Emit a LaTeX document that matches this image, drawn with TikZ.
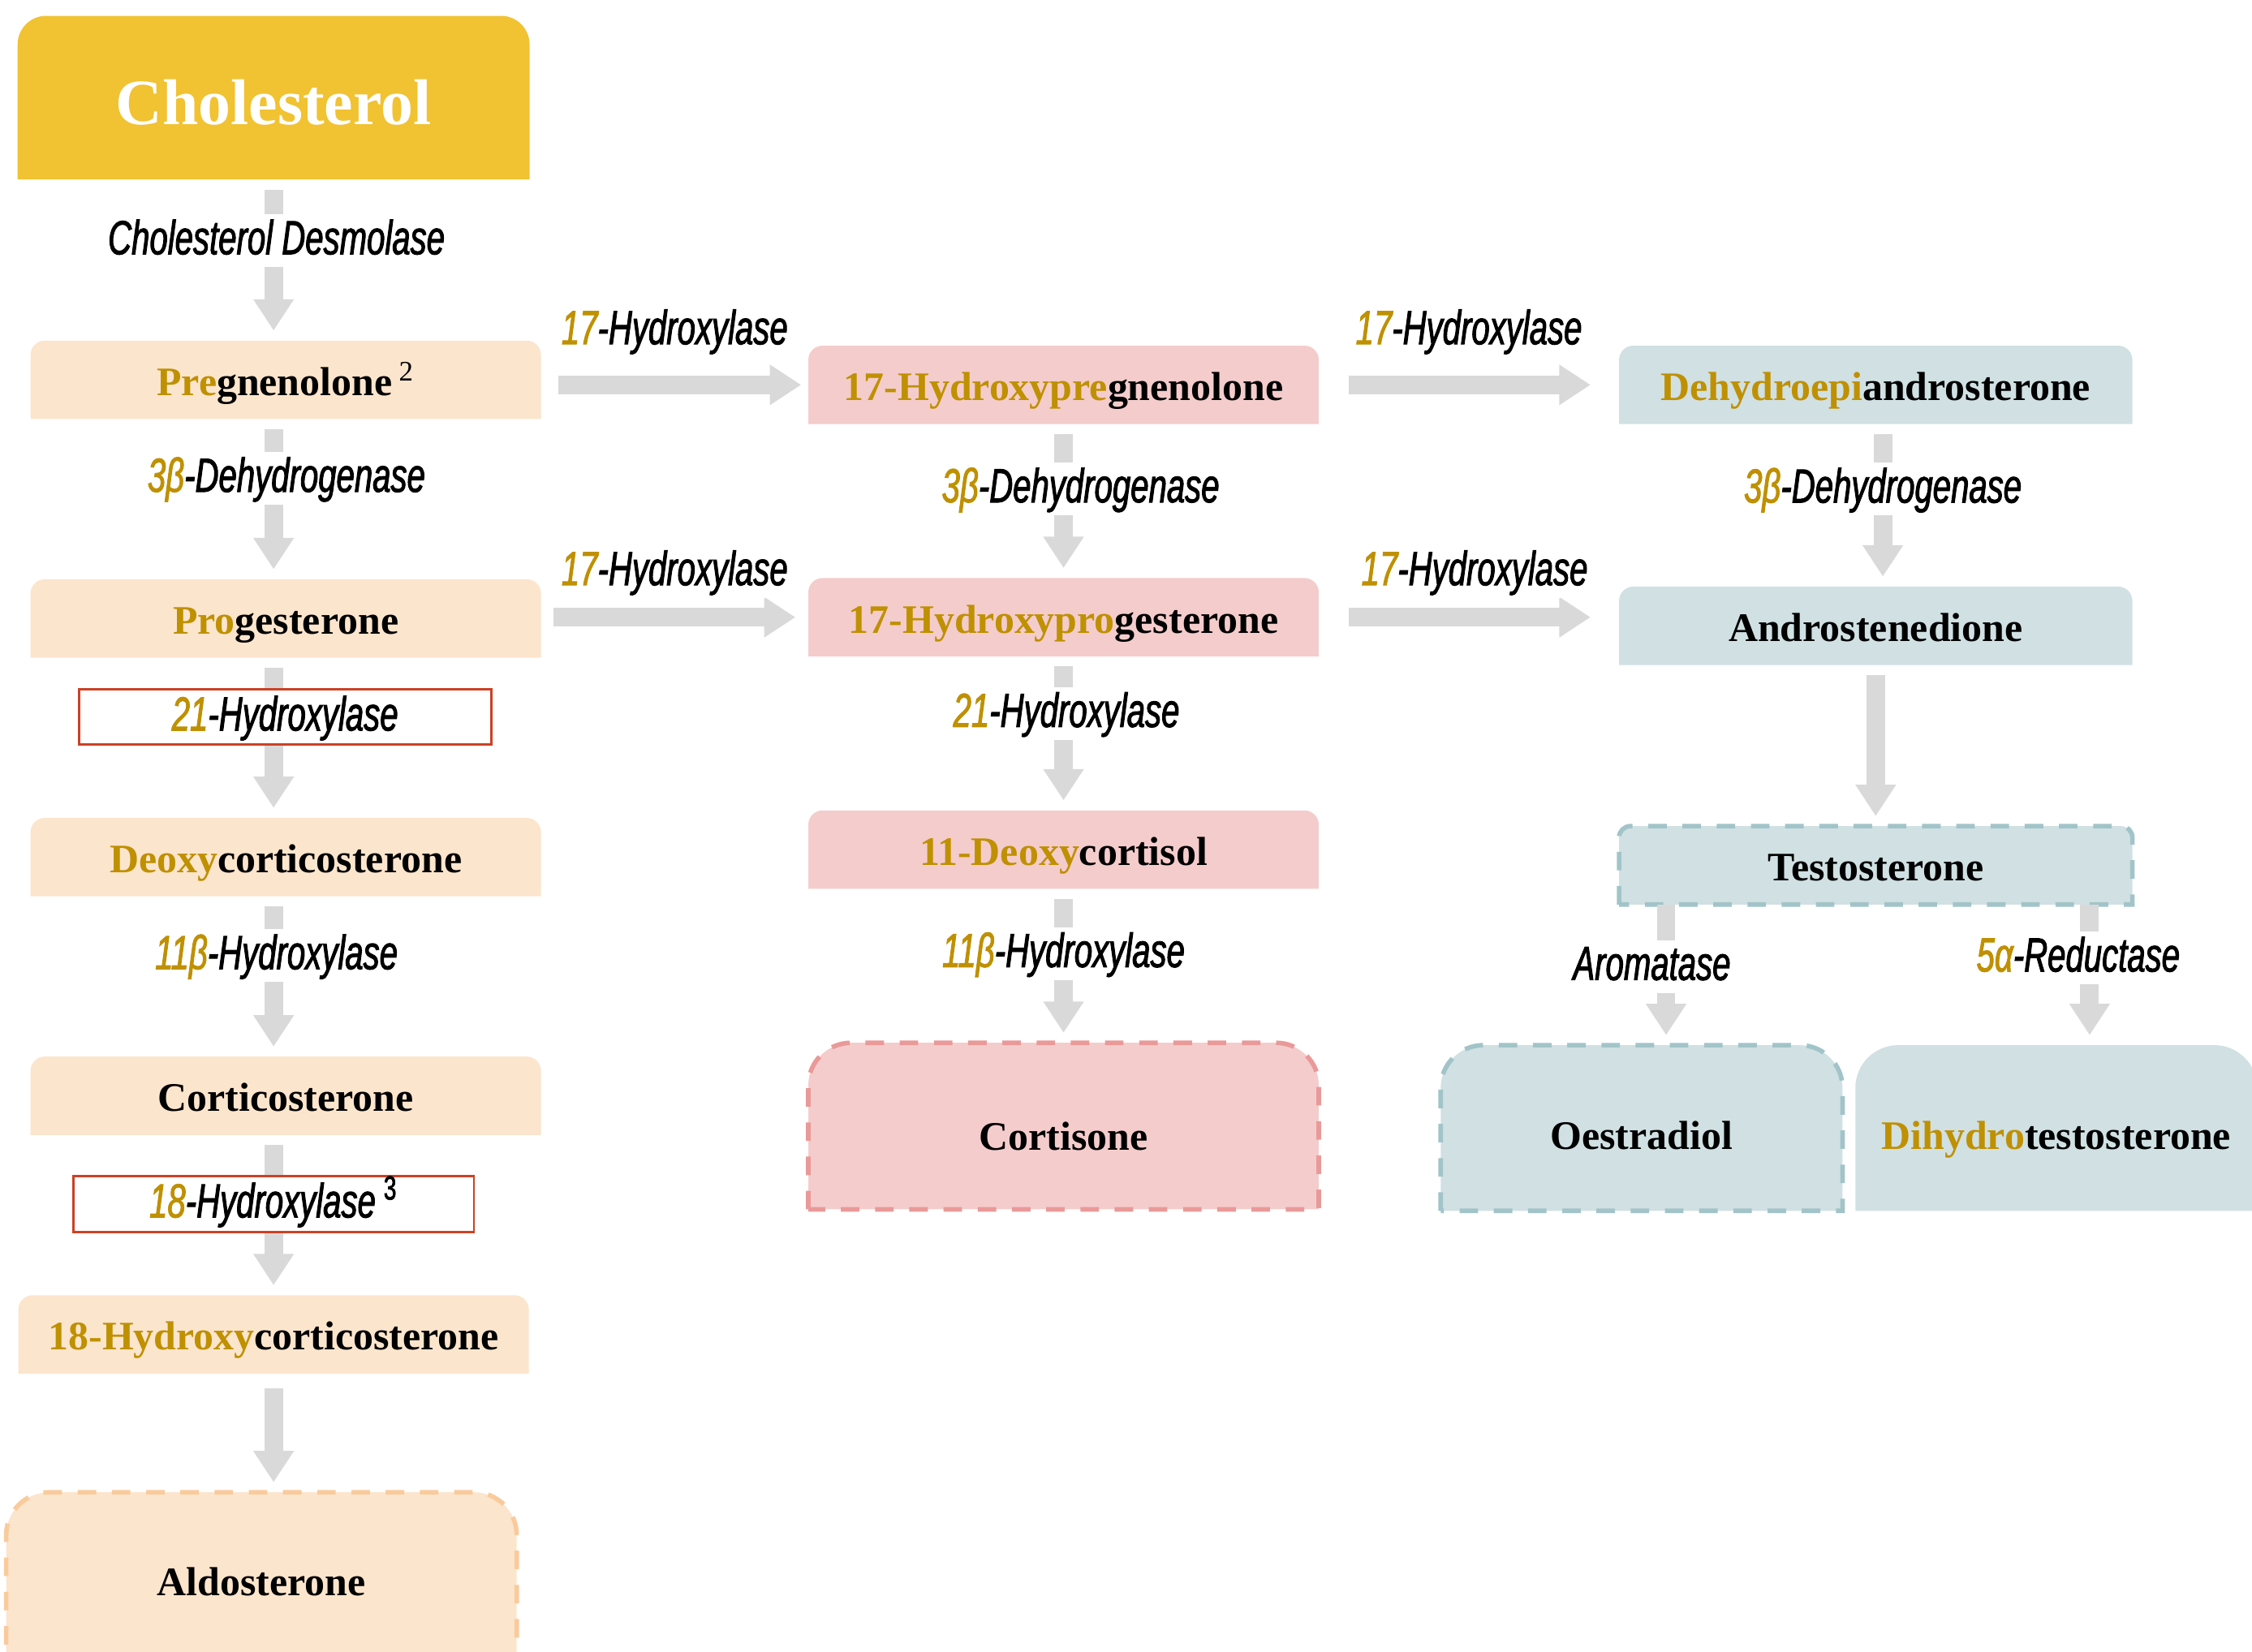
\documentclass[tikz,border=0pt]{standalone}
\usepackage{fontspec}
\setmainfont{Liberation Serif}
\newfontfamily\enzfont[FakeStretch=0.68, FakeBold=1.6]{Liberation Sans}
\usetikzlibrary{arrows.meta, positioning, backgrounds}

\definecolor{gold}{HTML}{BF9000}
\definecolor{cholfill}{HTML}{F1C232}
\definecolor{peach}{HTML}{FCE5CD}
\definecolor{peachline}{HTML}{F9CB9C}
\definecolor{rose}{HTML}{F4CCCC}
\definecolor{roseline}{HTML}{EA9999}
\definecolor{steel}{HTML}{D0E0E3}
\definecolor{steelline}{HTML}{A2C4C9}
\definecolor{flowgray}{HTML}{D9D9D9}
\definecolor{redline}{HTML}{CC4125}

% box with rounded top corners and square bottom corners
\newcommand{\topround}[3]{%
  \path[#3] (#1.south west) -- ([yshift=-#2]#1.north west)
    arc[start angle=180, end angle=90, radius=#2]
    -- ([xshift=-#2]#1.north east)
    arc[start angle=90, end angle=0, radius=#2]
    -- (#1.south east) -- cycle;}

\newcommand{\goldpart}[1]{\textcolor{gold}{#1}}

\begin{document}
\begin{tikzpicture}[
    x=0.017698cm, y=0.017698cm,
    node distance=56.2pt,
    >={Triangle[width=13.5pt, length=11pt]},
    steroid/.style={minimum width=178.6pt, minimum height=27.1pt, inner sep=0pt,
        text height=11pt, text depth=0pt,
        font=\fontsize{14.2}{17}\selectfont\bfseries},
    bigsteroid/.style={steroid, minimum height=58pt, text height=15pt},
    cholbox/.style={steroid, minimum width=179.1pt, minimum height=57pt,
        text height=19pt, text=white,
        font=\fontsize{22.7}{26}\selectfont\bfseries},
    enzyme/.style={fill=white, inner sep=1pt, text height=13pt, text depth=3.5pt,
        font=\enzfont\itshape\fontsize{16.8}{20}\selectfont},
    redbox/.style={enzyme, draw=redline, line width=0.8pt, inner sep=0pt},
    flow/.style={->, draw=flowgray, line width=6.5pt,
        shorten <=3.5pt, shorten >=3.5pt},
    dashline/.style={line width=1.6pt, dash pattern=on 6.5pt off 5.5pt}
]

\useasboundingbox (0,0) rectangle (1568,-1150);

% Nodes ------------------------------------------------------

\node[cholbox] (chol) at (190.5,-68) {Cholesterol};

\node[steroid, below=56.5pt of chol, xshift=4.26pt] (pregn)
    {\goldpart{Pre}gnenolone\,{\mdseries\textsuperscript{2}}};
\node[steroid, below=of pregn] (progest) {\goldpart{Pro}gesterone};
\node[steroid, below=of progest] (deoxy) {\goldpart{Deoxy}corticosterone};
\node[steroid, below=of deoxy] (cortico) {Corticosterone};
\node[steroid, below=of cortico, xshift=-4.26pt] (hcort)
    {\goldpart{18-Hydroxy}corticosterone};
\node[bigsteroid, minimum height=65pt, text height=7pt, below=41.6pt of hcort,
    xshift=-4.26pt] (aldo) {Aldosterone};

\node[steroid] (ohpreg) at (740.5,-268) {\goldpart{17-Hydroxypre}gnenolone};
\node[steroid, below=54pt of ohpreg] (ohprog) {\goldpart{17-Hydroxypro}gesterone};
\node[steroid, below=54pt of ohprog] (dcortisol) {\goldpart{11-Deoxy}cortisol};
\node[bigsteroid, text height=17pt, below=54pt of dcortisol] (cortisone) {Cortisone};

\node[steroid, minimum width=179.6pt] (dhea) at (1306,-268)
    {\goldpart{Dehydroepi}androsterone};
\node[steroid, minimum width=179.6pt, below=57pt of dhea] (andro) {Androstenedione};
\node[steroid, minimum width=179.6pt, below=56.5pt of andro] (testo) {Testosterone};
\node[bigsteroid, minimum width=140.5pt, minimum height=57.7pt] (oestr)
    at (1143,-785.5) {Oestradiol};
\node[bigsteroid, minimum width=140.5pt, minimum height=57.7pt, right=4.5pt of oestr]
    (dht) {\goldpart{Dihydro}testosterone};

% Boxes ------------------------------------------------------

\begin{scope}[on background layer]
  \topround{chol}{10pt}{fill=cholfill}
  \foreach \n in {pregn, progest, deoxy, cortico, hcort}
    {\topround{\n}{5pt}{fill=peach}}
  \topround{aldo}{15pt}{fill=peach, draw=peachline, dashline}
  \foreach \n in {ohpreg, ohprog, dcortisol}
    {\topround{\n}{5pt}{fill=rose}}
  \topround{cortisone}{15pt}{fill=rose, draw=roseline, dashline}
  \foreach \n in {dhea, andro}
    {\topround{\n}{5pt}{fill=steel}}
  \topround{testo}{4pt}{fill=steel, draw=steelline, dashline}
  \topround{oestr}{15pt}{fill=steel, draw=steelline, dashline}
  \topround{dht}{15pt}{fill=steel}
\end{scope}

% Arrows ---------------------------------------------------

\draw[flow] (chol.south) -- (chol.south |- pregn.north)
    node[enzyme, pos=0.38, xshift=1pt] (desmolase) {Cholesterol Desmolase};
\draw[flow] ([xshift=-4.26pt]pregn.south) -- ([xshift=-4.26pt]progest.north)
    node[enzyme, pos=0.37, xshift=4.5pt] (hsdA) {\goldpart{3β}-Dehydrogenase};
\draw[flow] ([xshift=-4.26pt]progest.south) -- ([xshift=-4.26pt]deoxy.north)
    node[redbox, minimum width=144.5pt, minimum height=19.3pt, pos=0.37, xshift=4pt]
    (hydA) {\goldpart{21}-Hydroxylase};
\draw[flow] ([xshift=-4.26pt]deoxy.south) -- ([xshift=-4.26pt]cortico.north)
    node[enzyme, pos=0.37, xshift=1pt] (hydB) {\goldpart{11β}-Hydroxylase};
\draw[flow] ([xshift=-4.26pt]cortico.south) -- (hcort.north)
    node[redbox, minimum width=140.5pt, minimum height=19.6pt, pos=0.43]
    (hydC) {\goldpart{18}-Hydroxylase\,{\upshape\textsuperscript{3}}};
\draw[flow, shorten <=5pt] (hcort.south) -- (hcort.south |- aldo.north);

\draw[flow] (ohpreg.south) -- (ohprog.north)
    node[enzyme, pos=0.42, xshift=6pt] (hsdB) {\goldpart{3β}-Dehydrogenase};
\draw[flow] (ohprog.south) -- (dcortisol.north)
    node[enzyme, pos=0.37, xshift=1pt] (hydD) {\goldpart{21}-Hydroxylase};
\draw[flow] (dcortisol.south) -- (cortisone.north)
    node[enzyme, pos=0.42] (hydE) {\goldpart{11β}-Hydroxylase};

\draw[flow] ([xshift=2.5pt]dhea.south) -- ([xshift=2.5pt]andro.north)
    node[enzyme, pos=0.4] (hsdC) {\goldpart{3β}-Dehydrogenase};
\draw[flow] (andro.south) -- (testo.north);
\draw[flow, shorten <=0pt] ([xshift=16.5pt]testo.south west)
    -- ([xshift=16.5pt]testo.south west |- oestr.north)
    node[enzyme, pos=0.44, xshift=-5pt] (aroma) {Aromatase};
\draw[flow, shorten <=0pt] ([xshift=-15pt]testo.south east)
    -- ([xshift=-15pt]testo.south east |- dht.north)
    node[enzyme, pos=0.38, xshift=-4pt] (reduct) {\goldpart{5α}-Reductase};

\draw[flow, shorten <=6pt, shorten >=2.5pt] (pregn.east |- ohpreg.west) -- (ohpreg.west)
    node[enzyme, midway, above=6.5pt] (hydF) {\goldpart{17}-Hydroxylase};
\draw[flow, shorten <=4.5pt, shorten >=4.5pt] (progest.east |- ohprog.west) -- (ohprog.west)
    node[enzyme, midway, above=3.5pt] (hydG) {\goldpart{17}-Hydroxylase};
\draw[flow, shorten <=10.5pt, shorten >=10pt] (ohpreg.east) -- (dhea.west)
    node[enzyme, midway, above=6.5pt] (hydH) {\goldpart{17}-Hydroxylase};
\draw[flow, shorten <=10.5pt, shorten >=10pt] (ohprog.east) -- (ohprog.east -| andro.west)
    node[enzyme, midway, above=3.5pt, xshift=2pt] (hydI) {\goldpart{17}-Hydroxylase};

\end{tikzpicture}
\end{document}
